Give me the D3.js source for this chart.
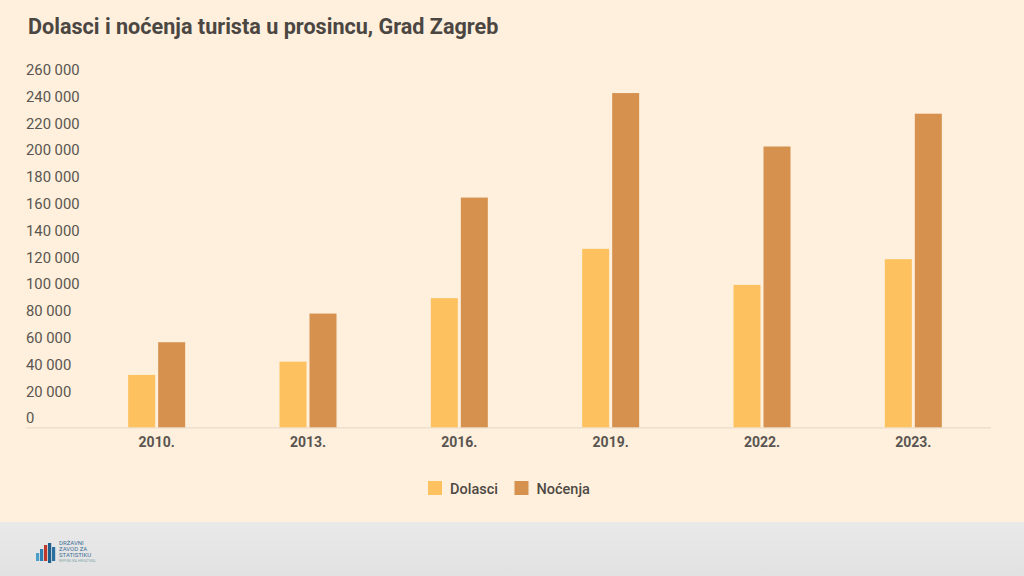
<!DOCTYPE html>
<html>
<head>
<meta charset="utf-8">
<script src="https://cdn.jsdelivr.net/npm/d3@7"></script>
<style>
  html, body { margin: 0; padding: 0; background: #fef0dc; }
  svg { display: block; font-family: Roboto, "Noto Sans", sans-serif; }
</style>
</head>
<body>
<svg id="chart" width="1024" height="576"></svg>
<script>
const years = ["2010.", "2013.", "2016.", "2019.", "2022.", "2023."];
const dolasci = [39100, 49000, 96400, 133200, 106300, 125500];
const nocenja = [63500, 84900, 171500, 249500, 209600, 234100];
const seriesNames = ["Dolasci", "Noćenja"];
const seriesColors = ["#fdc25f", "#d6914e"];
const yTicks = [0, 20000, 40000, 60000, 80000, 100000, 120000, 140000, 160000, 180000, 200000, 220000, 240000, 260000];
const titleText = "Dolasci i noćenja turista u prosincu, Grad Zagreb";

const svg = d3.select("#chart");
const W = 1024, H = 576;

svg.append("rect").attr("width", W).attr("height", H).attr("fill", "#fef0dc");

// footer
const footGrad = svg.append("defs").append("linearGradient").attr("id", "fg").attr("x1", 0).attr("x2", 0).attr("y1", 0).attr("y2", 1);
footGrad.append("stop").attr("offset", "0%").attr("stop-color", "#e9e9e9");
footGrad.append("stop").attr("offset", "100%").attr("stop-color", "#e2e2e2");
svg.append("rect").attr("x", 0).attr("y", 522).attr("width", W).attr("height", 54).attr("fill", "url(#fg)");

// title
svg.append("text").attr("x", 28).attr("y", 33.5).attr("font-size", 21.6).attr("font-weight", 700)
  .attr("fill", "#4b4642").text(titleText);

const y = d3.scaleLinear().domain([0, 260000]).range([427.3, 79]);
const x0 = d3.scaleBand().domain(years).range([81, 989]).padding(0);
const x1 = d3.scaleBand().domain(seriesNames).range([-28.5, 28.5]).paddingInner(0.1);

const fmt = d3.formatLocale({ decimal: ",", thousands: " ", grouping: [3], currency: ["", ""] }).format(",d");

// y labels
svg.append("g").selectAll("text").data(yTicks).join("text")
  .attr("x", 26).attr("y", d => y(d) - 4)
  .attr("font-size", 14.8).attr("fill", "#5a5550")
  .text(d => fmt(d));

// baseline
svg.append("line").attr("x1", 26).attr("x2", 991).attr("y1", y(0) + 0.5).attr("y2", y(0) + 0.5)
  .attr("stroke", "#e9dccb").attr("stroke-width", 1.2);

// bars
const groups = svg.append("g").selectAll("g").data(years).join("g")
  .attr("transform", d => `translate(${x0(d) + x0.bandwidth() / 2},0)`);

groups.selectAll("rect").data((d, i) => [
  { s: seriesNames[0], v: dolasci[i], c: seriesColors[0] },
  { s: seriesNames[1], v: nocenja[i], c: seriesColors[1] }
]).join("rect")
  .attr("x", d => x1(d.s)).attr("width", x1.bandwidth())
  .attr("y", d => y(d.v)).attr("height", d => y(0) - y(d.v))
  .attr("fill", d => d.c);

// x labels
svg.append("g").selectAll("text").data(years).join("text")
  .attr("x", d => x0(d) + x0.bandwidth() / 2).attr("y", 447)
  .attr("text-anchor", "middle").attr("font-size", 14).attr("font-weight", 700)
  .attr("fill", "#5a5550").text(d => d);

// legend
const legX = [428, 514.5];
const leg = svg.append("g").selectAll("g").data(seriesNames).join("g")
  .attr("transform", (d, i) => `translate(${legX[i]},481)`);
leg.append("rect").attr("width", 14).attr("height", 14).attr("fill", (d, i) => seriesColors[i]);
leg.append("text").attr("x", 22).attr("y", 12.5).attr("font-size", 14.5).attr("font-weight", 500)
  .attr("fill", "#4e4944").text(d => d);

// logo
const logo = svg.append("g").attr("transform", "translate(36,540)");
const logoBars = [[0, 10, 8, "#4a9fc9"], [4, 6, 12, "#2f7fb3"], [8, 2, 16, "#c0392b"], [12, 0, 20, "#1f5f8b"], [16, 4, 14, "#2b6fa0"]];
logo.selectAll("rect").data(logoBars).join("rect")
  .attr("x", d => d[0]).attr("y", d => d[1] + 3).attr("width", 3.2).attr("height", d => d[2]).attr("fill", d => d[3]);
const logoText = ["DRŽAVNI", "ZAVOD ZA", "STATISTIKU"];
logo.selectAll("text.l").data(logoText).join("text").attr("class", "l")
  .attr("x", 23).attr("y", (d, i) => 5 + i * 6).attr("font-size", 6).attr("fill", "#3d6f96").text(d => d);
logo.append("text").attr("x", 23).attr("y", 22).attr("font-size", 3.5).attr("fill", "#8aa").text("REPUBLIKA HRVATSKA");
</script>
</body>
</html>
